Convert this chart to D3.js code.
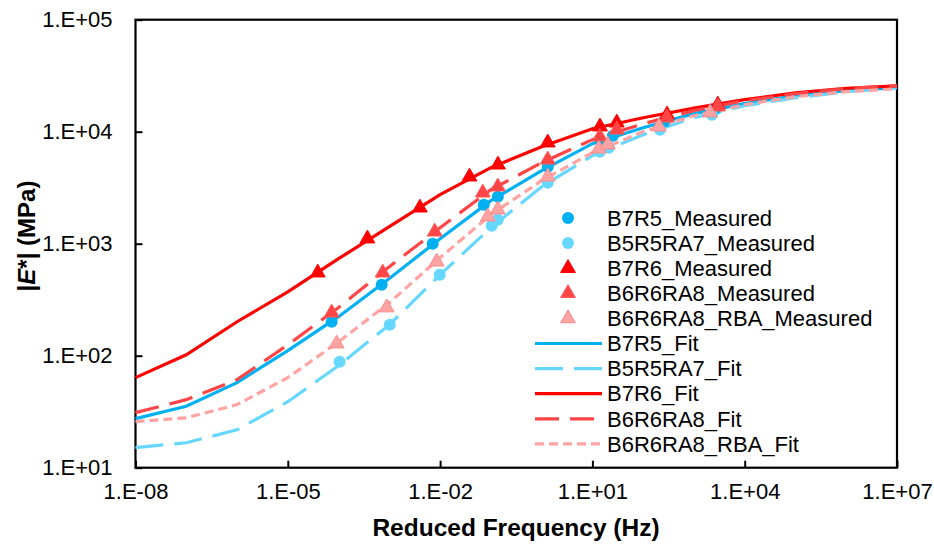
<!DOCTYPE html>
<html>
<head>
<meta charset="utf-8">
<script src="https://cdn.jsdelivr.net/npm/d3@7"></script>
<style>
  body { margin: 0; background: #fff; }
  text { font-family: Arial, "Liberation Sans", sans-serif; }
</style>
</head>
<body>
<div id="chart"></div>
<script>
//*************************0. Data

// measured points: reduced frequency (Hz) and |E*| (MPa)
const b7r5MeasFreq = [7.31e-5, 7.06e-4, 7.14e-3, 0.0724, 0.137, 1.32, 14.0, 25.3, 257, 2570]
const b7r5MeasE = [201, 431, 1000, 2228, 2630, 4864, 8492, 9204, 12274, 15704]

const b5r5ra7MeasFreq = [1.05e-4, 1.02e-3, 9.84e-3, 0.104, 0.137, 1.32, 14.0, 21.1, 214, 2259]
const b5r5ra7MeasE = [88.3, 189, 528, 1449, 1637, 3508, 6622, 7194, 10423, 14191]

const b7r6MeasFreq = [3.9e-5, 3.7e-4, 4.0e-3, 0.038, 0.138, 1.32, 14.1, 30.2, 295, 2950]
const b7r6MeasE = [551, 1109, 2094, 3963, 5070, 7980, 11092, 12023, 14191, 17418]

const b6r6ra8MeasFreq = [7.31e-5, 7.40e-4, 7.83e-3, 0.0692, 0.137, 1.32, 14.0, 30.3, 293, 2965]
const b6r6ra8MeasE = [242, 551, 1279, 2851, 3228, 5623, 9016, 10423, 13335, 16711]

const rbaMeasFreq = [9.16e-5, 8.87e-4, 8.57e-3, 0.0869, 0.137, 1.32, 13.4, 20.1, 204, 2065]
const rbaMeasE = [128, 269, 690, 1742, 2014, 3963, 7047, 7656, 11092, 14791]

// fitted master curves, one value per decade
const fitFreq = [1e-8, 1e-7, 1e-6, 1e-5, 1e-4, 1e-3, 1e-2, 1e-1, 1, 1e1, 1e2, 1e3, 1e4, 1e5, 1e6, 1e7]
const b7r5FitE = [27.4, 35.4, 57.4, 111, 223, 488, 1109, 2421, 4487, 7816, 10864, 14488, 17783, 20941, 23227, 24717]
const b5r5ra7FitE = [15.1, 16.7, 21.8, 38.8, 81.5, 189, 528, 1390, 3228, 6109, 9397, 13335, 17061, 20137, 22751, 24717]
const b7r6FitE = [63.7, 102, 201, 372, 735, 1419, 2742, 4775, 7345, 10641, 13335, 16218, 19320, 22284, 24434, 25704]
const b6r6ra8FitE = [31.0, 40.5, 61.1, 125, 269, 624, 1390, 3034, 5284, 8492, 11776, 15417, 18923, 21827, 24210, 25763]
const rbaFitE = [25.8, 27.9, 36.6, 63.7, 133, 297, 750, 1816, 3656, 6501, 10000, 13900, 17418, 20559, 22751, 24210]

// axis ticks
const xTicks = [1e-8, 1e-5, 1e-2, 1e1, 1e4, 1e7]
const yTicks = [1e1, 1e2, 1e3, 1e4, 1e5]

function draw() {

//*************************1. Dimensions
    const dimensions = {
        width: 934,
        height: 545,
        margin: {
            top: 19.7,
            right: 37,
            bottom: 77.3,
            left: 135.5
        }
    }
    dimensions.boundedWidth = dimensions.width
        - dimensions.margin.left
        - dimensions.margin.right
    dimensions.boundedHeight = dimensions.height
        - dimensions.margin.top
        - dimensions.margin.bottom

//*************************2. Wrapper and bounds
    const wrapper = d3.select("#chart")
        .append("svg")
        .attr("width", dimensions.width)
        .attr("height", dimensions.height)

    const bounds = wrapper.append("g")
        .attr("transform", `translate(${dimensions.margin.left},${dimensions.margin.top})`)

//*************************3. Series + accessors
    const zip = (fx, ey) => fx.map((f, i) => ({ f: f, e: ey[i] }))

    const measured = [
        { name: "B7R5_Measured", pts: zip(b7r5MeasFreq, b7r5MeasE), shape: "circle", fill: "#00B0F0", stroke: "#00B0F0" },
        { name: "B5R5RA7_Measured", pts: zip(b5r5ra7MeasFreq, b5r5ra7MeasE), shape: "circle", fill: "#66D8FF", stroke: "#66D8FF" },
        { name: "B7R6_Measured", pts: zip(b7r6MeasFreq, b7r6MeasE), shape: "triangle", fill: "#FF0000", stroke: "#FF0000" },
        { name: "B6R6RA8_Measured", pts: zip(b6r6ra8MeasFreq, b6r6ra8MeasE), shape: "triangle", fill: "#FF4545", stroke: "#FF5858" },
        { name: "B6R6RA8_RBA_Measured", pts: zip(rbaMeasFreq, rbaMeasE), shape: "triangle", fill: "#FFA3A3", stroke: "#FF8A8A" }
    ]

    const fits = [
        { name: "B7R5_Fit", pts: zip(fitFreq, b7r5FitE), color: "#00B0F0", dash: null },
        { name: "B5R5RA7_Fit", pts: zip(fitFreq, b5r5ra7FitE), color: "#66D8FF", dash: "28,11" },
        { name: "B7R6_Fit", pts: zip(fitFreq, b7r6FitE), color: "#FF0000", dash: null },
        { name: "B6R6RA8_Fit", pts: zip(fitFreq, b6r6ra8FitE), color: "#FF4545", dash: "24,11" },
        { name: "B6R6RA8_RBA_Fit", pts: zip(fitFreq, rbaFitE), color: "#FFA3A3", dash: "9,5" }
    ]

    const freqAccessor = d => d.f
    const modAccessor = d => d.e

//*************************4. Scales
    const xScale = d3.scaleLog()
        .domain([1e-8, 1e7])
        .range([0, dimensions.boundedWidth])

    const yScale = d3.scaleLog()
        .domain([1e1, 1e5])
        .range([dimensions.boundedHeight, 0])

    const sciFormat = v => {
        const p = Math.round(Math.log10(v))
        return `1.E${p < 0 ? "-" : "+"}${String(Math.abs(p)).padStart(2, "0")}`
    }

//*************************5. Peripherals
    const xAxisGenerator = d3.axisBottom(xScale)
        .tickValues(xTicks)
        .tickFormat(sciFormat)
        .tickSizeInner(-7)
        .tickSizeOuter(0)
        .tickPadding(16)

    const yAxisGenerator = d3.axisLeft(yScale)
        .tickValues(yTicks)
        .tickFormat(sciFormat)
        .tickSizeInner(-7)
        .tickSizeOuter(0)
        .tickPadding(23)

    const xAxis = bounds.append("g")
        .call(xAxisGenerator)
        .attr("transform", `translate(0,${dimensions.boundedHeight})`)

    const yAxis = bounds.append("g")
        .call(yAxisGenerator)

    ;[xAxis, yAxis].forEach(ax => {
        ax.select(".domain").remove()
        ax.selectAll(".tick line").attr("stroke", "#000").attr("stroke-width", 2)
        ax.selectAll(".tick text")
            .attr("fill", "#000")
            .style("font-size", "22px")
            .style("font-family", "Arial, 'Liberation Sans', sans-serif")
    })

    // plot frame
    bounds.append("rect")
        .attr("width", dimensions.boundedWidth)
        .attr("height", dimensions.boundedHeight)
        .attr("fill", "none")
        .attr("stroke", "#000")
        .attr("stroke-width", 2.2)

    // axis titles
    wrapper.append("text")
        .attr("x", 516)
        .attr("y", 536)
        .attr("text-anchor", "middle")
        .style("font-size", "24.5px")
        .style("font-weight", "bold")
        .text("Reduced Frequency (Hz)")

    const yTitle = wrapper.append("text")
        .attr("transform", "translate(35,236) rotate(-90)")
        .attr("text-anchor", "middle")
        .style("font-size", "24px")
        .style("font-weight", "bold")
    yTitle.append("tspan").text("|")
    yTitle.append("tspan").style("font-style", "italic").text("E")
    yTitle.append("tspan").text("*| (MPa)")

//*************************6. Generators
    const lineGenerator = d3.line()
        .x(d => xScale(freqAccessor(d)))
        .y(d => yScale(modAccessor(d)))

    const triangle = d3.symbol().type(d3.symbolTriangle).size(95)

//*************************7. Draw fits then markers
    const plot = bounds.append("g")

    plot.selectAll(".fit")
        .data(fits)
        .join("path")
        .attr("class", "fit")
        .attr("d", d => lineGenerator(d.pts))
        .attr("fill", "none")
        .attr("stroke", d => d.color)
        .attr("stroke-width", 3.2)
        .attr("stroke-dasharray", d => d.dash)

    measured.forEach(s => {
        const g = plot.append("g")
        if (s.shape === "circle") {
            g.selectAll("circle")
                .data(s.pts)
                .join("circle")
                .attr("cx", d => xScale(freqAccessor(d)))
                .attr("cy", d => yScale(modAccessor(d)))
                .attr("r", 6)
                .attr("fill", s.fill)
        } else {
            g.selectAll("path")
                .data(s.pts)
                .join("path")
                .attr("d", triangle)
                .attr("transform", d => `translate(${xScale(freqAccessor(d))},${yScale(modAccessor(d))})`)
                .attr("fill", s.fill)
                .attr("stroke", s.stroke)
                .attr("stroke-width", 1)
        }
    })

//*************************8. Legend
    const legend = wrapper.append("g")
        .attr("transform", "translate(0,218)")
    const rowH = 25.1

    const legendRows = [...measured, ...fits]
    const row = legend.selectAll("g")
        .data(legendRows)
        .join("g")
        .attr("transform", (d, i) => `translate(0,${i * rowH})`)

    row.each(function (d) {
        const g = d3.select(this)
        if (d.shape === "circle") {
            g.append("circle").attr("cx", 568).attr("r", 6).attr("fill", d.fill)
        } else if (d.shape === "triangle") {
            g.append("path").attr("d", triangle)
                .attr("transform", "translate(568,0)")
                .attr("fill", d.fill).attr("stroke", d.stroke)
        } else {
            g.append("line")
                .attr("x1", 535).attr("x2", 602)
                .attr("stroke", d.color)
                .attr("stroke-width", 3.2)
                .attr("stroke-dasharray", d.dash)
        }
    })

    row.append("text")
        .attr("x", 607)
        .attr("dy", "0.35em")
        .style("font-size", "22px")
        .text(d => d.name)
}
draw()
</script>
</body>
</html>
